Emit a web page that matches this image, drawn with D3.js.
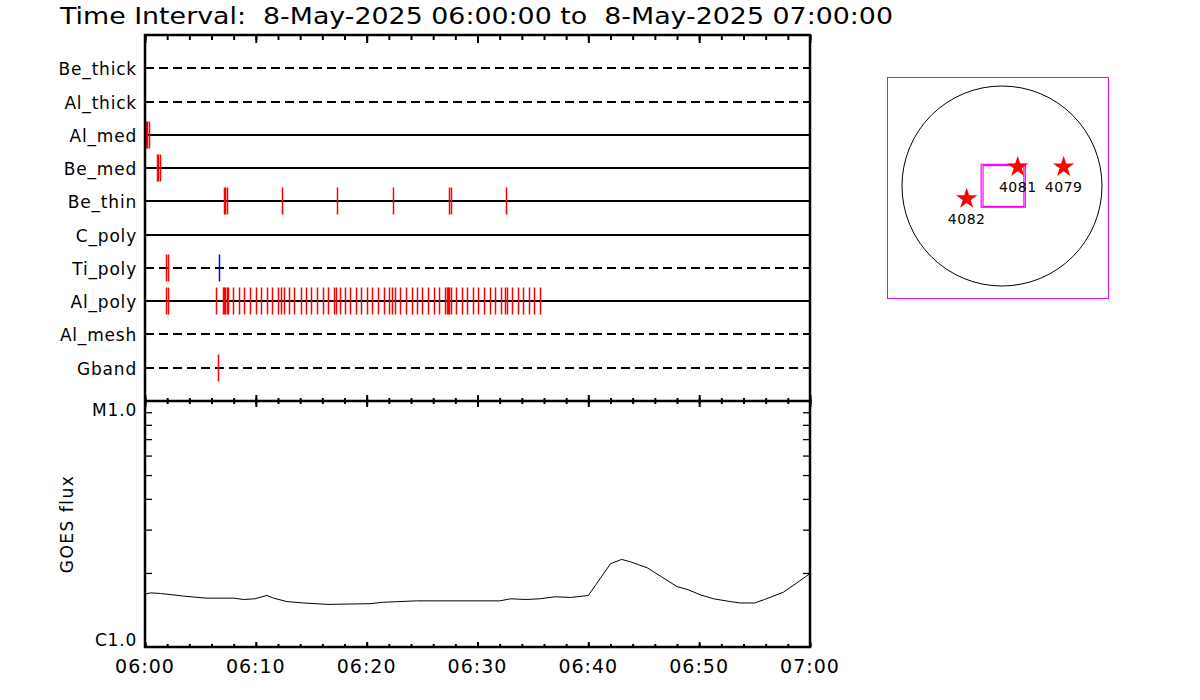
<!DOCTYPE html>
<html><head><meta charset="utf-8">
<script src="https://cdn.jsdelivr.net/npm/d3@7"></script>
<style>
html,body{margin:0;padding:0;background:#fff;}
text{font-family:"DejaVu Sans",sans-serif;fill:#000;white-space:pre;}
</style></head>
<body>
<svg id="c" width="1200" height="700"></svg>
<script>
// ---------- data ----------
const titleText = "Time Interval:  8-May-2025 06:00:00 to  8-May-2025 07:00:00";
const channels = ["Be_thick","Al_thick","Al_med","Be_med","Be_thin","C_poly","Ti_poly","Al_poly","Al_mesh","Gband"];
const channelDashed = [true,true,false,false,false,false,true,false,true,true];
// event times, seconds after 06:00:00
const evAlMed  = [5, 11, 22];
const evBeMed  = [65, 70, 81];
const evBeThin = [428, 433, 446, 743, 1041, 1344, 1647, 1658, 1956];
const evTiPoly = [114, 123];
const evTiPolyBlue = [402];
const evAlPoly = [114, 123, 386, 424, 429, 435, 446, 451, 478, 510, 537, 570, 602, 630, 662, 689, 722, 738, 754, 781, 808, 846, 873, 900, 933, 965, 992, 1025, 1036, 1057, 1084, 1111, 1144, 1171, 1203, 1231, 1263, 1295, 1323, 1339, 1355, 1382, 1415, 1447, 1474, 1501, 1534, 1566, 1593, 1626, 1635, 1640, 1646, 1656, 1685, 1718, 1745, 1777, 1804, 1837, 1869, 1896, 1929, 1950, 1961, 1988, 2021, 2048, 2080, 2108, 2140];
const evGband  = [397];
// GOES flux (minutes after 06:00, W/m^2 in units of 1e-6)
const goesMin  = [0, 0.5, 1.4, 3.5, 5.5, 8, 8.9, 9.9, 11, 11.6, 12.8, 14.3, 16.5, 20.3, 21.5, 24.5, 26.6, 32, 33, 34.4, 35.6, 37, 38.4, 40, 42, 43, 43.8, 45.3, 46.6, 48, 49, 50.1, 51.3, 52.8, 53.7, 55, 55.9, 57.6, 59.1, 60];
const goesFlux = [1.64, 1.66, 1.65, 1.61, 1.58, 1.58, 1.56, 1.57, 1.62, 1.58, 1.53, 1.51, 1.49, 1.50, 1.52, 1.54, 1.54, 1.54, 1.57, 1.56, 1.57, 1.60, 1.59, 1.62, 2.18, 2.27, 2.22, 2.10, 1.93, 1.76, 1.71, 1.63, 1.57, 1.53, 1.51, 1.51, 1.56, 1.67, 1.86, 1.99];
const xTickLabels = ["06:00","06:10","06:20","06:30","06:40","06:50","07:00"];
const yTickLabels = ["C1.0","M1.0"];
// active regions (arcsec from disk centre)
const arNum = ["4082","4081","4079"];
const arX = [-339, 151, 592];
const arY = [-122, 182, 182];
const fovX = [[-200, 224], [-182, 210]];
const fovY = [[-204, 208], [-196, 196]];

// ---------- layout ----------
const svg = d3.select("#c");
const L = 145, R = 810, T = 35, M = 401, B = 647;
const t0 = new Date(2025,4,8,6,0,0), t1 = new Date(2025,4,8,7,0,0);
const x = d3.scaleTime().domain([t0,t1]).range([L,R]);
const sec = s => new Date(t0.getTime()+s*1000);
const yRow = d3.scalePoint().domain(channels).range([T,M]).padding(1);
const yF = d3.scaleLog().domain([1e-6,1e-5]).range([B,M]);

// title
svg.append("text").attr("x",60).attr("y",24).attr("font-size",23).attr("fill","#111")
  .attr("textLength",833).attr("lengthAdjust","spacingAndGlyphs").text(titleText);

// channel lines
channels.forEach((c,i)=>{
  const yy = Math.round(yRow(c));
  svg.append("line").attr("x1",L).attr("x2",R).attr("y1",yy).attr("y2",yy)
    .attr("stroke","#000").attr("stroke-width",2)
    .attr("stroke-dasharray",channelDashed[i]?"9,5":null);
  svg.append("text").attr("x",137).attr("y",yy+6.5).attr("text-anchor","end")
    .attr("font-size",17).attr("letter-spacing","0.8px").text(c);
});

// events
const evSets = [["Al_med",evAlMed,"#ff0000"],["Be_med",evBeMed,"#ff0000"],["Be_thin",evBeThin,"#ff0000"],
  ["Ti_poly",evTiPoly,"#ff0000"],["Ti_poly",evTiPolyBlue,"#0000ff"],["Al_poly",evAlPoly,"#ff0000"],["Gband",evGband,"#ff0000"]];
evSets.forEach(([c,arr,col])=>{
  const yy = Math.round(yRow(c));
  svg.append("g").selectAll("line").data(arr).join("line")
    .attr("x1",d=>Math.round(x(sec(d)))+0.5).attr("x2",d=>Math.round(x(sec(d)))+0.5)
    .attr("y1",yy-13.5).attr("y2",yy+13.5).attr("stroke",col).attr("stroke-width",1.5);
});

// axes helper
function ticks(axisFn, y, every, size){
  const g = svg.append("g").attr("transform",`translate(0,${y})`)
    .call(axisFn(x).ticks(d3.timeMinute.every(every)).tickSize(size).tickFormat(""));
  g.select(".domain").remove();
  g.selectAll("line").attr("stroke","#000").attr("stroke-width",2);
}
ticks(d3.axisBottom, T, 10, 8); ticks(d3.axisBottom, T, 2, 5);
ticks(d3.axisTop, M, 10, 6); ticks(d3.axisTop, M, 2, 3);
ticks(d3.axisBottom, M, 10, 6); ticks(d3.axisBottom, M, 2, 3);
ticks(d3.axisTop, B, 10, 5); ticks(d3.axisTop, B, 2, 3);

// log minor ticks
const minor = d3.range(2,10).map(v=>v*1e-6);
[[d3.axisRight,L],[d3.axisLeft,R]].forEach(([fn,xx])=>{
  const g = svg.append("g").attr("transform",`translate(${xx},0)`)
    .call(fn(yF).tickValues(minor).tickSize(7).tickFormat(""));
  g.select(".domain").remove();
  g.selectAll("line").attr("stroke","#000").attr("stroke-width",1.3);
});

// frames
svg.append("rect").attr("x",L).attr("y",T).attr("width",R-L).attr("height",B-T)
  .attr("fill","none").attr("stroke","#000").attr("stroke-width",2.5);
svg.append("line").attr("x1",L).attr("x2",R).attr("y1",M).attr("y2",M).attr("stroke","#000").attr("stroke-width",2.5);

// GOES curve
const line = d3.line().x(d=>x(new Date(t0.getTime()+d[0]*60000))).y(d=>yF(d[1]*1e-6));
svg.append("path").datum(goesMin.map((m,i)=>[m,goesFlux[i]])).attr("d",line)
  .attr("fill","none").attr("stroke","#000").attr("stroke-width",1);

// x tick labels
svg.append("g").selectAll("text").data(xTickLabels).join("text")
  .attr("x",(d,i)=>x(new Date(t0.getTime()+i*600000))).attr("y",673)
  .attr("text-anchor","middle").attr("font-size",19).attr("letter-spacing","1px").text(d=>d);
// y labels
svg.append("text").attr("x",137).attr("y",B-1).attr("text-anchor","end").attr("font-size",17).attr("letter-spacing","0.8px").text(yTickLabels[0]);
svg.append("text").attr("x",137).attr("y",M+15).attr("text-anchor","end").attr("font-size",17).attr("letter-spacing","0.8px").text(yTickLabels[1]);
svg.append("text").attr("transform",`translate(73,524) rotate(-90)`).attr("text-anchor","middle")
  .attr("font-size",17).attr("letter-spacing","1.5px").text("GOES flux");

// ---------- solar disk ----------
const sx = d3.scaleLinear().domain([-960,960]).range([902,1102]);
const sy = d3.scaleLinear().domain([-960,960]).range([286,86]);
svg.append("rect").attr("x",887.5).attr("y",77.5).attr("width",221).attr("height",221)
  .attr("fill","none").attr("stroke","#e010e0").attr("stroke-width",1);
svg.append("circle").attr("cx",sx(0)).attr("cy",sy(0)).attr("r",sx(960)-sx(0))
  .attr("fill","none").attr("stroke","#000").attr("stroke-width",1);
fovX.forEach((fx,i)=>{
  const fy = fovY[i];
  svg.append("rect").attr("x",sx(fx[0])).attr("y",sy(fy[1])).attr("width",sx(fx[1])-sx(fx[0]))
    .attr("height",sy(fy[0])-sy(fy[1])).attr("fill","none").attr("stroke","#ff00ff").attr("stroke-width",1.2);
});
const star = d3.symbol(d3.symbolStar, 140);
arNum.forEach((n,i)=>{
  svg.append("path").attr("d",star()).attr("transform",`translate(${sx(arX[i])},${sy(arY[i])})`).attr("fill","#ff0000");
  svg.append("text").attr("x",sx(arX[i])).attr("y",sy(arY[i])+25).attr("text-anchor","middle")
    .attr("font-size",14).attr("letter-spacing","0.5px").text(n);
});
</script>
</body></html>
